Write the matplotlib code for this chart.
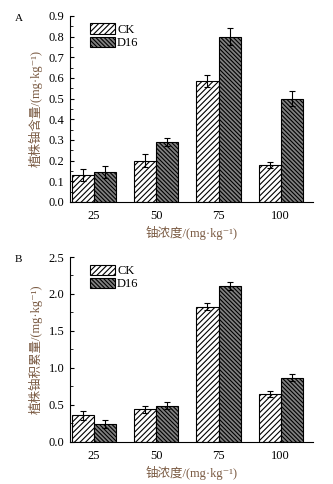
import matplotlib
matplotlib.use("Agg")
import matplotlib.pyplot as plt
import numpy as np
from matplotlib.ticker import MultipleLocator

plt.rcParams['font.family'] = ['Liberation Serif', 'Noto Sans CJK SC', 'DejaVu Serif']
plt.rcParams['hatch.linewidth'] = 0.8

categories = ["25", "50", "75", "100"]
series = ["CK", "D16"]

content_ck = [0.13, 0.20, 0.585, 0.18]
content_ck_err = [0.03, 0.03, 0.03, 0.015]
content_d16 = [0.145, 0.29, 0.80, 0.50]
content_d16_err = [0.03, 0.02, 0.04, 0.035]

accum_ck = [0.36, 0.44, 1.83, 0.65]
accum_ck_err = [0.06, 0.045, 0.05, 0.04]
accum_d16 = [0.24, 0.49, 2.11, 0.87]
accum_d16_err = [0.05, 0.05, 0.05, 0.05]

label_color = "#7a5a42"
unit = "(mg·kg⁻¹)"

fig = plt.figure(figsize=(3.33, 4.84), dpi=100)

panels = [
    ("A", [0.21, 0.583, 0.73, 0.384], content_ck, content_ck_err, content_d16, content_d16_err,
     0.9, 0.1, "植株铀含量/" + unit),
    ("B", [0.21, 0.087, 0.73, 0.382], accum_ck, accum_ck_err, accum_d16, accum_d16_err,
     2.5, 0.5, "植株铀积累量/" + unit),
]

x = np.arange(len(categories))
w = 0.355

for (tag, rect, ck, ck_e, d16, d16_e, ymax, step, ylab) in panels:
    ax = fig.add_axes(rect)
    ax.bar(x - w / 2, ck, w, yerr=ck_e, color="white", edgecolor="black", hatch="//////",
           linewidth=0.8, error_kw=dict(elinewidth=0.8, capsize=2, capthick=0.8), label=series[0])
    ax.bar(x + w / 2, d16, w, yerr=d16_e, color="#808080", edgecolor="black", hatch="\\\\\\\\\\\\\\\\",
           linewidth=0.8, error_kw=dict(elinewidth=0.8, capsize=2, capthick=0.8), label=series[1])
    ax.set_xlim(-0.39, 3.52)
    ax.set_ylim(0, ymax)
    ax.set_xticks(x)
    ax.set_xticklabels(categories, fontsize=9)
    ax.tick_params(axis="x", length=0, pad=6)
    ax.yaxis.set_major_locator(MultipleLocator(step))
    ax.yaxis.set_minor_locator(MultipleLocator(step / 2))
    ax.set_yticklabels(["{:.1f}".format(v) for v in ax.get_yticks()], fontsize=9)
    ax.tick_params(axis="y", which="major", direction="in", length=3, width=0.8, pad=4)
    ax.tick_params(axis="y", which="minor", direction="in", length=1.8, width=0.6)
    ax.spines["top"].set_visible(False)
    ax.spines["right"].set_visible(False)
    ax.set_ylabel(ylab, fontsize=9, color=label_color, labelpad=4)
    ax.set_xlabel("铀浓度/" + unit, fontsize=9, color=label_color, labelpad=3)
    ax.legend(loc="upper left", bbox_to_anchor=(0.05, 1.0), frameon=False, fontsize=9,
              handlelength=2.0, handleheight=0.9, labelspacing=0.05, borderaxespad=0.2,
              handletextpad=0.2)
    fig.text(0.045, rect[1] + rect[3] + 0.005, tag, fontsize=8, va="top")

fig.savefig("out.png", dpi=100)
